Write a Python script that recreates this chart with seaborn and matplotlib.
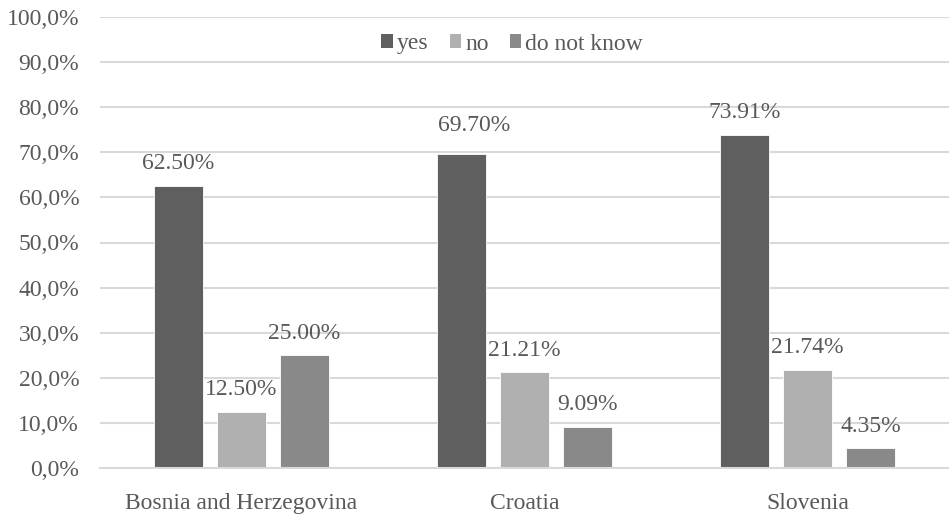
import matplotlib
matplotlib.use("Agg")
import matplotlib.pyplot as plt
import seaborn as sns
import pandas as pd
from matplotlib.patches import Patch
from matplotlib.ticker import FuncFormatter

countries = ["Bosnia and Herzegovina", "Croatia", "Slovenia"]
answers = ["yes", "no", "do not know"]
yes_vals = [62.50, 69.70, 73.91]
no_vals = [12.50, 21.21, 21.74]
dnk_vals = [25.00, 9.09, 4.35]
colors = ["#5f5f5f", "#b0b0b0", "#898989"]

rows = []
for i, c in enumerate(countries):
    for a, vals in zip(answers, [yes_vals, no_vals, dnk_vals]):
        rows.append({"country": c, "answer": a, "value": vals[i]})
df = pd.DataFrame(rows)

sns.set_theme(style="white")
plt.rcParams["font.family"] = ["Liberation Serif", "DejaVu Serif"]
text_color = "#595959"
fs = 17

fig = plt.figure(figsize=(9.49, 5.17), dpi=100)
ax = fig.add_axes([100 / 949, 49 / 517, 849 / 949, 451 / 517])

sns.barplot(data=df, x="country", y="value", hue="answer", order=countries,
            hue_order=answers, palette=colors, width=0.668, gap=0.22,
            edgecolor="white", linewidth=0.6, legend=False, ax=ax, errorbar=None)

ax.set_ylim(0, 100)
ax.set_xlim(-0.5, 2.5)
ax.set_yticks(range(0, 101, 10))
ax.yaxis.set_major_formatter(FuncFormatter(lambda v, p: f"{v:.1f}%".replace(".", ",")))
ax.grid(axis="y", color="#d9d9d9", linewidth=1.5)
ax.set_axisbelow(True)
for s in ["top", "right", "left"]:
    ax.spines[s].set_visible(False)
ax.spines["bottom"].set_color("#d9d9d9")
ax.spines["bottom"].set_linewidth(1.5)
ax.tick_params(axis="both", length=0, labelsize=fs, labelcolor=text_color)
ax.tick_params(axis="y", pad=15)
ax.tick_params(axis="x", pad=18)
ax.set_xlabel("")
ax.set_ylabel("")

# data labels
for container in ax.containers:
    for bar in container:
        h = bar.get_height()
        x = bar.get_x() + bar.get_width() / 2
        label = f"{h:.2f}%"
        dx, dy = 0, 12
        if label == "69.70%":
            dx, dy = 9.4, 16.5
        ax.annotate(label, (x, h), xytext=(dx, dy), textcoords="offset points",
                    ha="center", va="baseline", fontsize=fs, color=text_color)

handles = [Patch(facecolor=c, edgecolor="none") for c in colors]
fig.legend(handles, answers, loc="center", bbox_to_anchor=(512 / 949, 1 - 44 / 517),
           ncol=3, frameon=False, fontsize=fs, labelcolor=text_color,
           handlelength=0.5, handleheight=0.5, handletextpad=0.15, columnspacing=0.9,
           borderaxespad=0)

fig.savefig("out.png", dpi=100)
